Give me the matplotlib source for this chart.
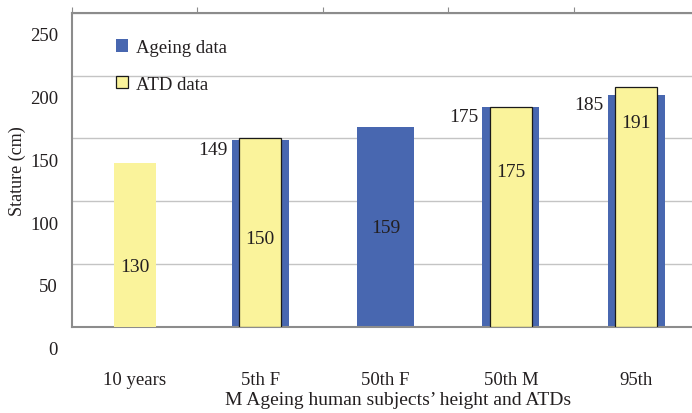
import numpy as np
import matplotlib
matplotlib.use("Agg")
import matplotlib.pyplot as plt
from matplotlib.patches import Patch
from matplotlib.transforms import ScaledTranslation

plt.rcParams['font.family'] = ['Liberation Serif', 'DejaVu Serif']

categories = ['10 years', '5th F', '50th F', '50th M', '95th']
ageing = [np.nan, 149, 159, 175, 185]
atd = [130, 150, np.nan, 175, 191]
inner_label_y = [48, 70, 79, 124, 163]
yticks = [0, 50, 100, 150, 200, 250]

BLUE = '#4867B0'
YELLOW = '#FAF39B'
GRID = '#C4C4C4'
SPINE = '#8C8C8C'
TXT = '#231F20'

fig = plt.figure(figsize=(6.92, 4.14), dpi=100)
ax = fig.add_axes([72/692, (414-327.5)/414, 627/692, 313.5/414])

x = np.arange(len(categories))
ax.bar(x, ageing, width=0.455, color=BLUE, zorder=2, linewidth=0)
edges = ['#1a1a1a' if not np.isnan(a) else 'none' for a in ageing]
ax.bar(x, atd, width=0.335, color=YELLOW, edgecolor=edges, linewidth=0.9, zorder=3)

for i in range(len(categories)):
    a, t = ageing[i], atd[i]
    if not np.isnan(t):
        ax.text(x[i], inner_label_y[i], f'{t:g}', ha='center', va='center',
                fontsize=14, color=TXT, zorder=4)
        if not np.isnan(a):
            ax.annotate(f'{a:g}', xy=(x[i] - 0.455/2, a), xytext=(-3, -1),
                        textcoords='offset points', ha='right', va='top',
                        fontsize=14, color=TXT, zorder=4)
    elif not np.isnan(a):
        ax.text(x[i], inner_label_y[i], f'{a:g}', ha='center', va='center',
                fontsize=14, color=TXT, zorder=4)

ax.set_xlim(-0.5, len(categories) - 0.5)
ax.set_ylim(0, 250)
ax.set_yticks(yticks)
ax.set_yticklabels([str(v) for v in yticks])
ax.yaxis.grid(True, color=GRID, linewidth=1.0, zorder=0)
ax.set_axisbelow(True)

ax.set_xticks(x)
ax.set_xticklabels(categories)
ax.set_xticks(np.arange(-0.5, len(categories), 1.0), minor=True)
ax.tick_params(axis='x', which='major', length=0, pad=32, labelsize=13.5, labelcolor=TXT)
ax.tick_params(axis='x', which='minor', top=True, bottom=False, length=4,
               direction='out', color=SPINE, width=0.8)
ax.tick_params(axis='y', length=0, pad=10, labelsize=13.5, labelcolor=TXT)

off = ScaledTranslation(0, -21/100, fig.dpi_scale_trans)
for lab in ax.get_yticklabels():
    lab.set_transform(lab.get_transform() + off)

for s in ['left', 'bottom', 'top']:
    ax.spines[s].set_color(SPINE)
    ax.spines[s].set_linewidth(1.5)
ax.spines['right'].set_visible(False)

ax.set_ylabel('Stature (cm)', fontsize=13, color=TXT, labelpad=3)
ax.set_xlabel('M Ageing human subjects\u2019 height and ATDs', fontsize=14,
              color=TXT)
ax.xaxis.set_label_coords((398-72)/627, -(392-327.5)/313.5)

handles = [Patch(facecolor=BLUE, edgecolor='none'),
           Patch(facecolor=YELLOW, edgecolor='#1a1a1a', linewidth=0.9)]
ax.legend(handles, ['Ageing data', 'ATD data'], loc='upper left',
          bbox_to_anchor=((116-72)/627, (327.5-40)/313.5), frameon=False,
          fontsize=13.5, handlelength=0.65, handleheight=0.65, handletextpad=0.4,
          labelspacing=1.05, borderpad=0, borderaxespad=0, labelcolor=TXT)

fig.savefig('out.png', dpi=100)
